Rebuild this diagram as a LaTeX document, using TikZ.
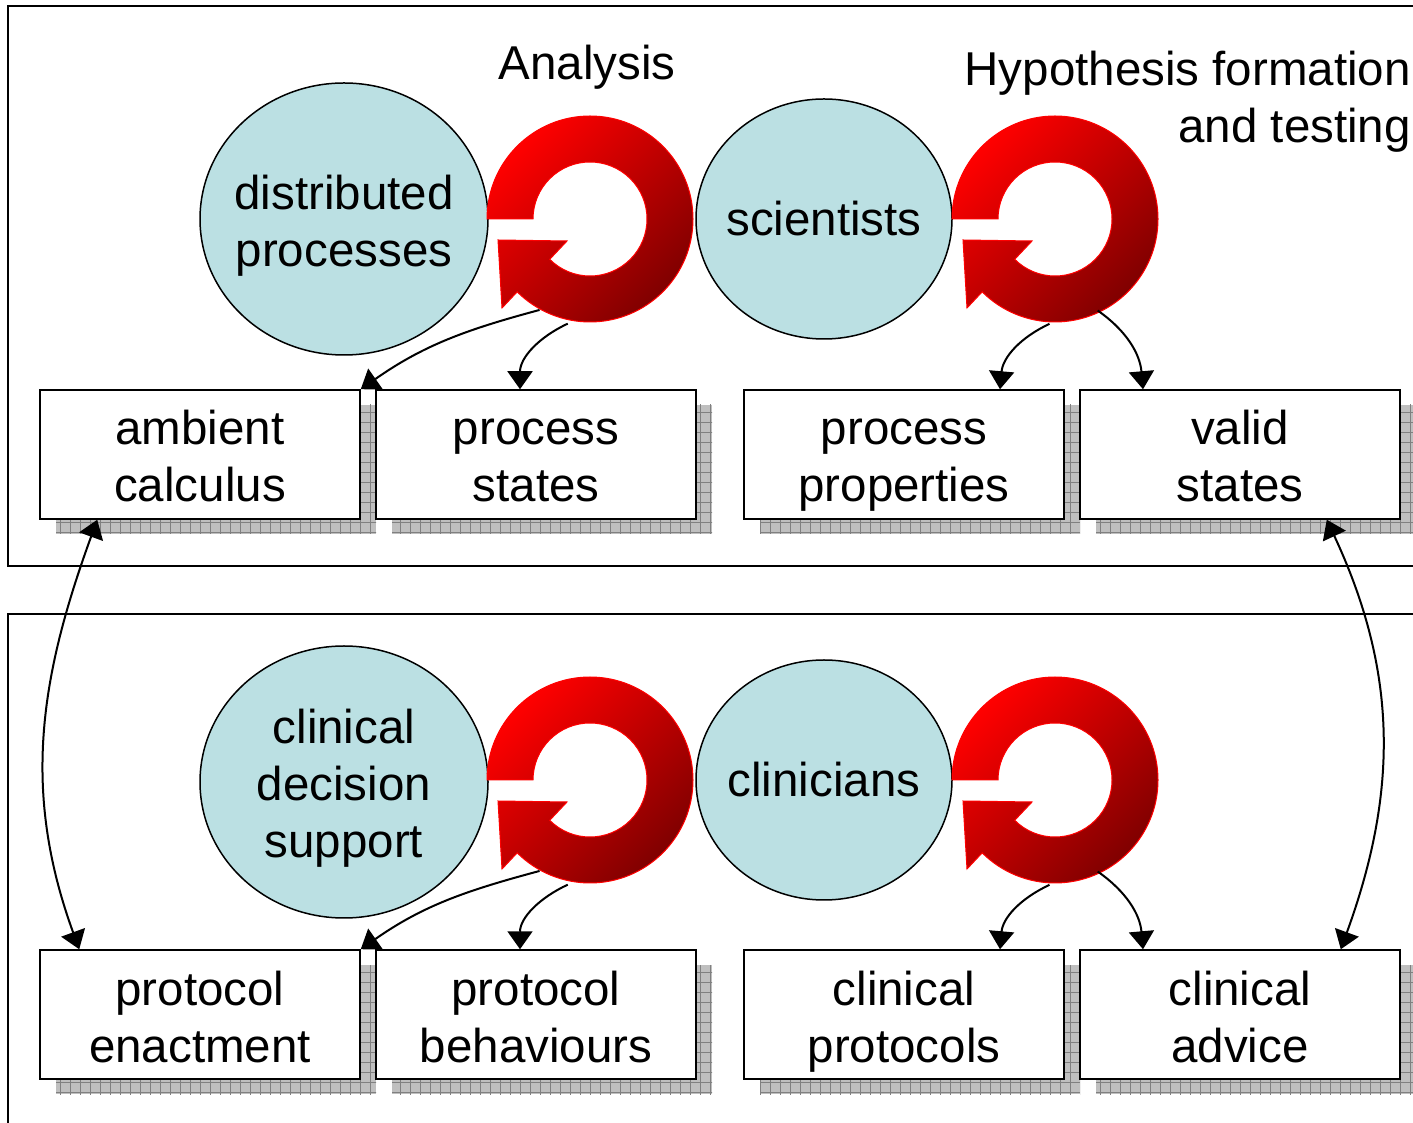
\documentclass[tikz,border=0pt]{standalone}
\usepackage{fontspec}
\setmainfont{Liberation Sans}
\usetikzlibrary{shapes.geometric,arrows.meta,shadows,patterns.meta}

\definecolor{procblue}{RGB}{187,224,227}
\definecolor{ringred}{RGB}{255,0,0}
\definecolor{ringdark}{RGB}{128,0,0}

\tikzset{
  panel/.style={line width=2pt},
  bubble/.style={ellipse, draw, line width=1.5pt, fill=procblue, align=center, inner ysep=0pt, inner xsep=-8pt},
  twolines/.style={text height=110pt, text depth=15pt},
  threelines/.style={text height=161pt, text depth=10pt},
  stepbox/.style={draw, line width=1.5pt, fill=white, minimum width=320pt, minimum height=129pt,
    align=center, inner sep=0pt, twolines,
    drop shadow={shadow xshift=16pt, shadow yshift=-15pt, fill=gray!50, opacity=1,
      postaction={pattern={Hatch[distance=10pt, line width=0.8pt]}, pattern color=gray}}},
  flow/.style={line width=2pt, -{Triangle[length=18pt,width=25pt]}},
  link/.style={line width=2pt, {Triangle[length=18pt,width=25pt]}-{Triangle[length=18pt,width=25pt]}},
  loopring/.pic={
    \path[draw=red, line width=1pt, top color=ringred, bottom color=ringdark, shading angle=45]
      (180:103pt) arc (180:-135:103pt) -- (-88pt,-89pt) -- (-92pt,-21pt) -- (-23pt,-22pt)
      -- (-135:57pt) arc (-135:180:57pt) -- cycle;
  }
}

\begin{document}
\begin{tikzpicture}[x=1pt, y=1pt, font=\fontsize{47.5}{57}\selectfont]
\useasboundingbox (0,0) rectangle (1413,1122);
\clip (0,0) rectangle (1413,1122);

% panels
\draw[panel] (1430,1116) -- (8,1116) -- (8,556) -- (1430,556);
\draw[panel] (1430,508) -- (8,508) -- (8,-20);

% actors and systems
\node[bubble, twolines, minimum width=288pt, minimum height=272pt] (dist) at (344,903) {distributed\\processes};
\node[bubble, minimum width=256pt, minimum height=240pt] (sci) at (824,903) {scientists};
\node[bubble, threelines, minimum width=288pt, minimum height=272pt] (cds) at (344,340) {clinical\\decision\\support};
\node[bubble, minimum width=256pt, minimum height=240pt] (clin) at (824,342) {clinicians};

% cycles
\coordinate (anaTop) at (590,903);
\coordinate (hypTop) at (1055,903);
\coordinate (anaBot) at (590,342);
\coordinate (hypBot) at (1055,342);
\pic at (anaTop) {loopring};
\pic at (hypTop) {loopring};
\pic at (anaBot) {loopring};
\pic at (hypBot) {loopring};

\node[inner sep=0pt] (analysis) at (587,1055) {Analysis};
\node[anchor=east, align=right, inner sep=0pt] (hypo) at (1411,1020) {Hypothesis formation\\and testing};

% outcomes
\node[stepbox] (amb) at (200,667.5) {ambient\\calculus};
\node[stepbox] (pst) at (536,667.5) {process\\states};
\node[stepbox] (ppr) at (904,667.5) {process\\properties};
\node[stepbox] (val) at (1240,667.5) {valid\\states};
\node[stepbox] (enact) at (200,107.5) {protocol\\enactment};
\node[stepbox] (beh) at (536,107.5) {protocol\\behaviours};
\node[stepbox] (cpr) at (904,107.5) {clinical\\protocols};
\node[stepbox] (adv) at (1240,107.5) {clinical\\advice};

\draw[flow] ([shift={(241:104pt)}]anaTop) to[out=195,in=35] (amb.north east);
\draw[flow] ([shift={(258:107pt)}]anaTop) to[out=205,in=90] ([xshift=-16pt]pst.north);
\draw[flow] ([shift={(267:105pt)}]hypTop) to[out=205,in=85] ([xshift=96pt]ppr.north);
\draw[flow] ([shift={(-65:101pt)}]hypTop) to[out=-35,in=95] ([xshift=-97pt]val.north);

\draw[flow] ([shift={(241:104pt)}]anaBot) to[out=195,in=35] (enact.north east);
\draw[flow] ([shift={(258:107pt)}]anaBot) to[out=205,in=90] ([xshift=-16pt]beh.north);
\draw[flow] ([shift={(267:105pt)}]hypBot) to[out=205,in=85] ([xshift=96pt]cpr.north);
\draw[flow] ([shift={(-65:101pt)}]hypBot) to[out=-35,in=95] ([xshift=-97pt]adv.north);

\draw[link] ([xshift=58pt]amb.south west) to[out=250,in=110] ([xshift=40pt]enact.north west);
\draw[link] ([xshift=-74pt]val.south east) to[out=-65,in=70] ([xshift=-60pt]adv.north east);
\end{tikzpicture}
\end{document}
